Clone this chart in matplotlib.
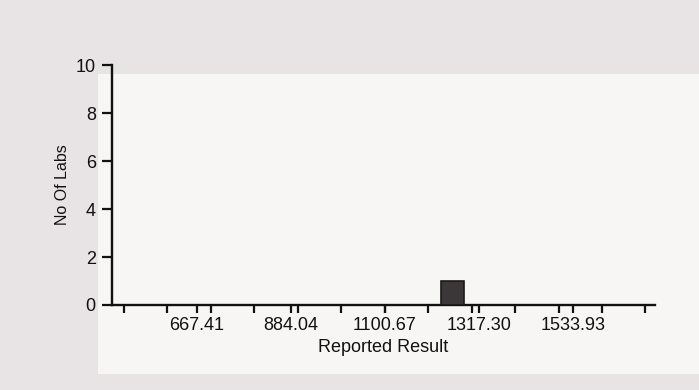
import matplotlib.pyplot as plt
from matplotlib.ticker import FixedLocator

# histogram bin edges (every 100) and the one reported result bar
bin_edges = [500, 600, 700, 800, 900, 1000, 1100, 1200, 1300, 1400, 1500, 1600, 1700]
bar_centres = [1256]
bar_heights = [1]

# labelled ticks along the result axis
label_ticks = [667.41, 884.04, 1100.67, 1317.30, 1533.93]
y_ticks = [0, 2, 4, 6, 8, 10]

plt.rcParams["font.family"] = ["Liberation Sans", "DejaVu Sans"]

fig = plt.figure(figsize=(6.99, 3.90), dpi=100, facecolor="#e8e3e4")
# whitish paper region behind the chart
paper = plt.Rectangle((0.14, 0.04), 0.86, 0.77, transform=fig.transFigure,
                      facecolor="#f8f5f5", edgecolor="none")
paper.set_zorder(-10)
fig.add_artist(paper)

ax = fig.add_axes([0.160, 0.218, 0.777, 0.615])
ax.set_zorder(5)
ax.set_facecolor("none")

ax.bar(bar_centres, bar_heights, width=52, color="#3b3738",
       edgecolor="#1a1a1a", linewidth=1.2, zorder=3)

ax.set_xlim(472, 1722)
ax.set_ylim(0, 10)

ax.xaxis.set_major_locator(FixedLocator(label_ticks))
ax.xaxis.set_minor_locator(FixedLocator(bin_edges))
ax.set_xticklabels([f"{v:.2f}" for v in label_ticks])
ax.set_yticks(y_ticks)

for side in ("top", "right"):
    ax.spines[side].set_visible(False)
for side in ("left", "bottom"):
    ax.spines[side].set_linewidth(1.7)
    ax.spines[side].set_color("#111111")

ax.tick_params(axis="both", which="both", direction="out", width=1.6,
               color="#111111", labelsize=13, labelcolor="#111111")
ax.tick_params(axis="x", which="major", length=6, pad=3)
ax.tick_params(axis="x", which="minor", length=5.5)
ax.tick_params(axis="y", which="major", length=7.5, pad=4)

ax.set_xlabel("Reported Result", fontsize=13, color="#111111", labelpad=3)
ax.set_ylabel("No Of Labs", fontsize=11.5, color="#111111", labelpad=4)

fig.savefig("out.png", dpi=100, facecolor=fig.get_facecolor())
